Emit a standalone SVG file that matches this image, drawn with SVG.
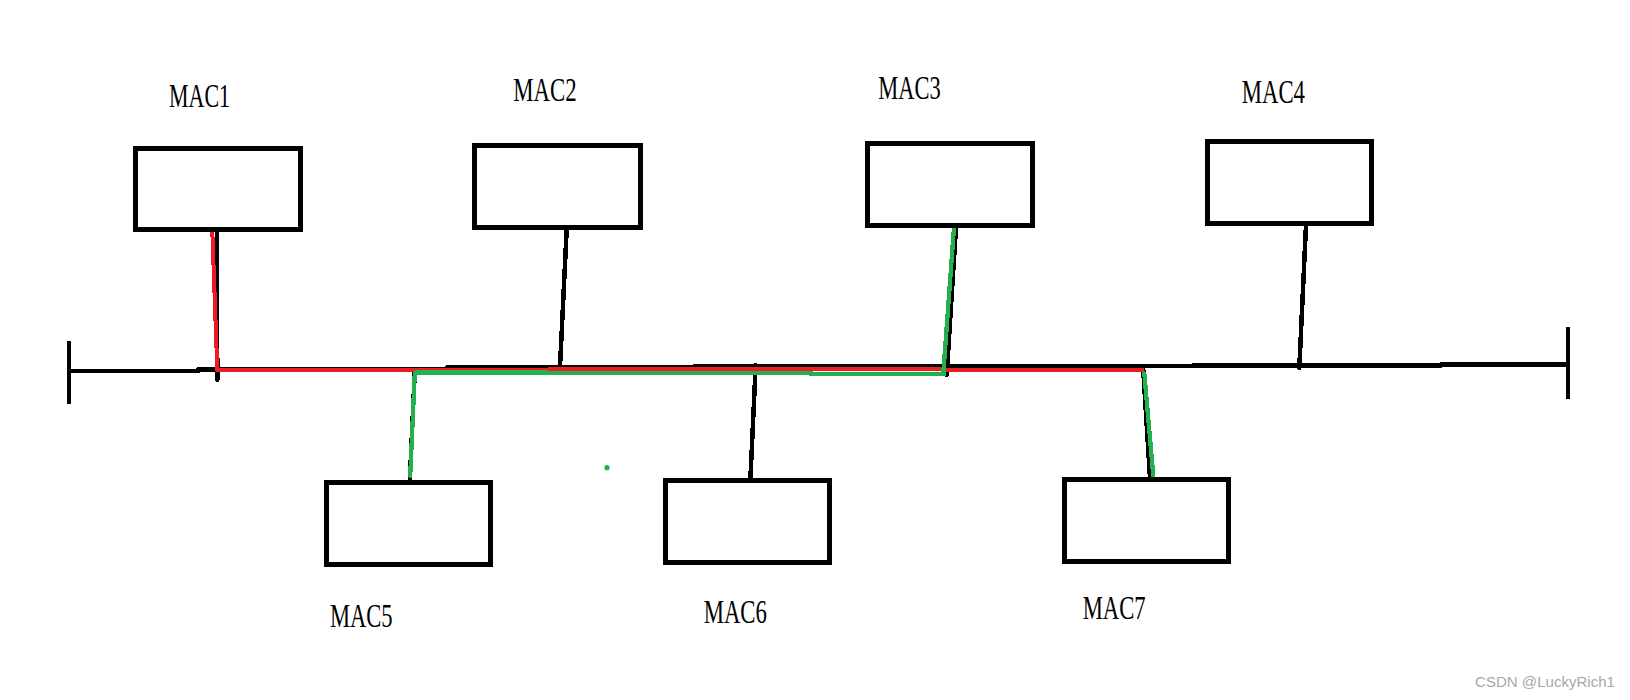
<svg xmlns="http://www.w3.org/2000/svg" width="1630" height="700" viewBox="0 0 1630 700">
<style>
.box{fill:#fff;stroke:#000;stroke-width:5;shape-rendering:crispEdges}
.lbl{font-family:"Liberation Serif",serif;font-size:33px;fill:#000}
.blk{fill:none;stroke:#000;stroke-width:4.5;stroke-linecap:round;shape-rendering:crispEdges}
.red{fill:none;stroke:#ed1c24;stroke-width:4;stroke-linejoin:round;shape-rendering:crispEdges}
.grn{fill:none;stroke:#22b14c;stroke-width:4.3;stroke-linecap:round;stroke-linejoin:round;shape-rendering:crispEdges}
.wm{font-family:"Liberation Sans",Arial,sans-serif;font-size:14px;fill:#a8a8a8}
</style>
<rect width="1630" height="700" fill="#fff"/>
<g id="connectors">
  <path class="blk" d="M69 343V402 M69 371H198 M198 369.5H447 M447 367.5H695 M695 366H1193 M1193 365.5H1441 M1441 364.5H1568 M1568 329V397"/>
  <path class="blk" d="M217 231L217.3 380"/>
  <path class="blk" d="M566.7 229L560 367"/>
  <path class="blk" d="M956 227L946.7 375"/>
  <path class="blk" d="M1306 225L1299.3 368"/>
  <path class="blk" d="M414.8 371L409.8 481"/>
  <path class="blk" d="M755.7 365L750.4 479"/>
  <path class="blk" d="M1143.3 370L1150 478"/>
  <path class="red" d="M212.3 231L217.3 370.3H548 M548 369.3H944 M944 370.3H1144"/>
  <path class="grn" d="M410.2 476L414.8 372.6H548 L548 372.8H811 M811 374H944 L943.3 373.3 L954.3 223.3"/>
  <path class="grn" d="M1144.3 373.3L1153.3 476"/>
  <circle cx="607" cy="467.7" r="2.6" fill="#22b14c"/>
</g>
<g id="mac1"><rect class="box" x="135.8" y="148.2" width="165" height="81.3"/><text class="lbl" x="169" y="106.7" textLength="61" lengthAdjust="spacingAndGlyphs">MAC1</text></g>
<g id="mac2"><rect class="box" x="474.8" y="145.8" width="165.4" height="82"/><text class="lbl" x="513.3" y="100.7" textLength="63.4" lengthAdjust="spacingAndGlyphs">MAC2</text></g>
<g id="mac3"><rect class="box" x="867.5" y="143.2" width="165.3" height="82"/><text class="lbl" x="878.3" y="99" textLength="62.4" lengthAdjust="spacingAndGlyphs">MAC3</text></g>
<g id="mac4"><rect class="box" x="1207.2" y="141.5" width="164" height="82"/><text class="lbl" x="1241.7" y="102.7" textLength="63.3" lengthAdjust="spacingAndGlyphs">MAC4</text></g>
<g id="mac5"><rect class="box" x="326.5" y="482.8" width="164" height="82"/><text class="lbl" x="329.9" y="627.3" textLength="62.7" lengthAdjust="spacingAndGlyphs">MAC5</text></g>
<g id="mac6"><rect class="box" x="665.1" y="480.8" width="164.6" height="82"/><text class="lbl" x="703.7" y="622.7" textLength="63.2" lengthAdjust="spacingAndGlyphs">MAC6</text></g>
<g id="mac7"><rect class="box" x="1064.2" y="479.8" width="164.3" height="81.4"/><text class="lbl" x="1082.7" y="619.3" textLength="63" lengthAdjust="spacingAndGlyphs">MAC7</text></g>
<text class="wm" x="1475" y="687.3" textLength="140" lengthAdjust="spacingAndGlyphs">CSDN @LuckyRich1</text>
</svg>
